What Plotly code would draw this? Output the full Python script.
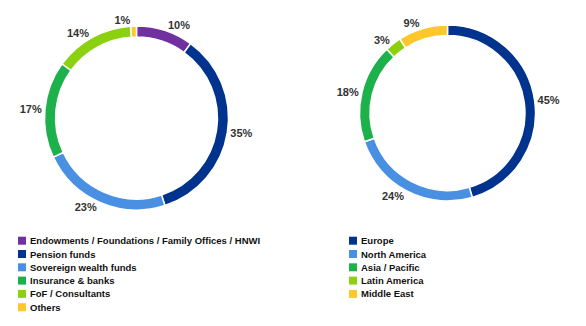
import plotly.graph_objects as go

# Investor breakdown by type
investor_types = [
    "Endowments / Foundations / Family Offices / HNWI",
    "Pension funds",
    "Sovereign wealth funds",
    "Insurance & banks",
    "FoF / Consultants",
    "Others",
]
investor_share = [10, 35, 23, 17, 14, 1]
investor_colors = ["#7030A0", "#00338D", "#4A90E2", "#1DB14B", "#8CD10F", "#FFC72C"]

# Investor breakdown by region
regions = ["Europe", "North America", "Asia / Pacific", "Latin America", "Middle East"]
region_share = [45, 24, 18, 3, 9]
region_colors = ["#00338D", "#4A90E2", "#1DB14B", "#8CD10F", "#FFC72C"]

W, H = 586, 326
FONT = "Arial, Liberation Sans, sans-serif"


def domain(cx, cy, r):
    return dict(x=[(cx - r) / W, (cx + r) / W], y=[1 - (cy + r) / H, 1 - (cy - r) / H])


def donut(labels, values, colors, dom):
    return go.Pie(
        labels=labels,
        values=values,
        marker=dict(colors=colors, line=dict(color="white", width=1.5)),
        hole=0.88,
        sort=False,
        direction="clockwise",
        rotation=0,
        textposition="outside",
        texttemplate="%{value}%",
        textfont=dict(family=FONT, size=11, color="#333333", weight="bold"),
        showlegend=False,
        domain=dom,
    )


fig = go.Figure()
fig.add_trace(donut(investor_types, investor_share, investor_colors, domain(136.5, 118, 92)))
fig.add_trace(donut(regions, region_share, region_colors, domain(447.5, 113, 88)))

# Compact legends drawn as swatches + text
shapes, annotations = [], []


def add_legend(labels, colors, x0, y0, step=13.3, size=8):
    for i, (lab, col) in enumerate(zip(labels, colors)):
        yc = y0 + i * step
        shapes.append(dict(
            type="rect", xref="paper", yref="paper",
            x0=x0 / W, x1=(x0 + size) / W,
            y0=1 - (yc + size / 2) / H, y1=1 - (yc - size / 2) / H,
            fillcolor=col, line=dict(width=0),
        ))
        annotations.append(dict(
            text=lab, xref="paper", yref="paper",
            x=(x0 + size + 2) / W, y=1 - yc / H,
            xanchor="left", yanchor="middle", showarrow=False,
            font=dict(family=FONT, size=9.5, color="#111111", weight="bold"),
        ))


add_legend(investor_types, investor_colors, 18, 240.7)
add_legend(regions, region_colors, 349, 240.7)

fig.update_layout(
    width=W, height=H,
    margin=dict(l=0, r=0, t=0, b=0),
    paper_bgcolor="white", plot_bgcolor="white",
    shapes=shapes, annotations=annotations,
)

fig.write_html("out.html")
